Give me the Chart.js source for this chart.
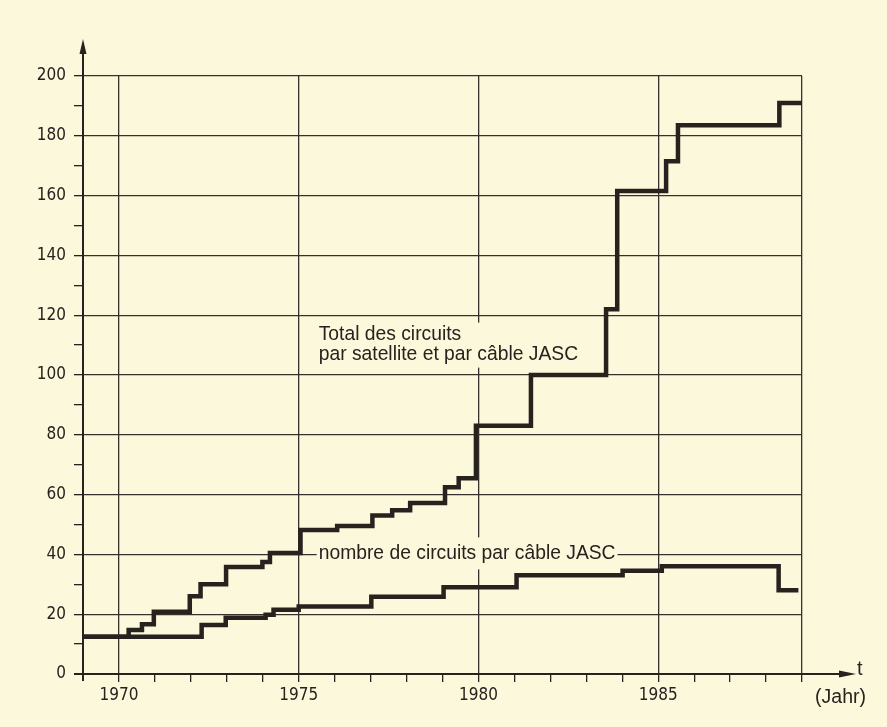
<!DOCTYPE html>
<html><head><meta charset="utf-8">
<script src="https://cdn.jsdelivr.net/npm/chart.js@4/dist/chart.umd.min.js"></script>
<style>html,body{margin:0;padding:0;background:#fcf8dc;overflow:hidden}#wrap{width:887px;height:727px;position:relative}</style>
</head><body><div id="wrap"><canvas id="c" width="887" height="727"></canvas></div>
<script>
// ---- data ----
const totalYears  = [1969, 1970.27, 1970.64, 1970.97, 1971.97, 1972.27, 1972.98, 1973.99, 1974.2, 1975.05, 1976.07, 1977.05, 1977.6, 1978.1, 1979.07, 1979.45, 1979.93, 1981.46, 1983.55, 1983.86, 1985.22, 1985.55, 1988.37, 1989];
const totalValues = [12.5, 14.7, 16.6, 20.8, 26, 30, 35.8, 37.5, 40.5, 48.2, 49.5, 53, 54.8, 57.2, 62.5, 65.5, 83, 100, 122, 161.5, 171.5, 183.5, 191, 191];
const cableYears  = [1969, 1972.3, 1972.97, 1974.08, 1974.3, 1975.0, 1977.02, 1979.03, 1981.06, 1984.01, 1985.1, 1988.35, 1988.9];
const cableValues = [12.5, 16.4, 18.8, 19.8, 21.5, 22.6, 25.8, 29, 33, 34.5, 36, 28, 28];
const yTickValues = [0, 20, 40, 60, 80, 100, 120, 140, 160, 180, 200];
const xLabelYears = [1970, 1975, 1980, 1985];
const xGridYears  = [1970, 1975, 1980, 1985, 1989];
const totalLabel  = ['Total des circuits', 'par satellite et par câble JASC'];
const cableLabel  = 'nombre de circuits par câble JASC';
const xAxisName   = 't';
const xAxisUnit   = '(Jahr)';

// ---- styling ----
const BG = '#fcf8dc';
const INK = '#27221e';
const GRID = '#36312c';
const tickFont = {family: '"DejaVu Sans Condensed", "DejaVu Sans", sans-serif', size: 17};
const totalFont = '19.3px "Liberation Sans", Arial, sans-serif';
const cableFont = '19.3px "Liberation Sans", Arial, sans-serif';

const toPts = (xs, ys) => xs.map((x, i) => ({x: x, y: ys[i]}));
const xMin = totalYears[0], xMax = xGridYears[xGridYears.length - 1];
const allYears = [];
for (let y = xMin; y <= xMax; y++) allYears.push(y);
const yAll = [];
for (let v = 0; v <= 200; v += 10) yAll.push(v);

const decor = {
  id: 'decor',
  beforeDraw(chart) {
    const ctx = chart.ctx;
    ctx.save();
    ctx.fillStyle = BG;
    ctx.fillRect(0, 0, chart.width, chart.height);
    ctx.restore();
  },
  beforeDatasetsDraw(chart) {
    const ctx = chart.ctx, xs = chart.scales.x, ys = chart.scales.y;
    ctx.save();
    ctx.textBaseline = 'middle';
    // Total label
    ctx.font = totalFont;
    const tx = xs.getPixelForValue(1975) + 20;
    const ty = ys.getPixelForValue(110) - 0.5;
    const w1 = Math.max(ctx.measureText(totalLabel[0]).width, ctx.measureText(totalLabel[1]).width);
    ctx.fillStyle = BG;
    ctx.fillRect(tx - 4, ty - 22, w1 + 8, 45);
    ctx.fillStyle = INK;
    ctx.fillText(totalLabel[0], tx, ty - 10);
    ctx.fillText(totalLabel[1], tx, ty + 10);
    // Cable label
    ctx.font = cableFont;
    const cx = xs.getPixelForValue(1975) + 20;
    const cy = ys.getPixelForValue(40) - 1;
    const w2 = ctx.measureText(cableLabel).width;
    ctx.fillStyle = BG;
    ctx.fillRect(cx - 2, cy - 16, w2 + 4, 32);
    ctx.fillStyle = INK;
    ctx.fillText(cableLabel, cx, cy);
    ctx.restore();
  },
  afterDraw(chart) {
    const ctx = chart.ctx, a = chart.chartArea;
    const x0 = a.left, y0 = a.bottom;
    ctx.save();
    ctx.strokeStyle = INK; ctx.fillStyle = INK; ctx.lineWidth = 2;
    // y axis
    ctx.beginPath(); ctx.moveTo(x0, y0 + 7); ctx.lineTo(x0, 50); ctx.stroke();
    ctx.beginPath(); ctx.moveTo(x0, 39); ctx.lineTo(x0 - 3.5, 54); ctx.lineTo(x0 + 3.5, 54); ctx.closePath(); ctx.fill();
    // x axis
    ctx.beginPath(); ctx.moveTo(x0 - 9, y0); ctx.lineTo(842, y0); ctx.stroke();
    ctx.beginPath(); ctx.moveTo(856, y0); ctx.lineTo(839, y0 - 3.5); ctx.lineTo(839, y0 + 3.5); ctx.closePath(); ctx.fill();
    ctx.font = '20px "Liberation Sans", Arial, sans-serif';
    ctx.textBaseline = 'middle'; ctx.textAlign = 'left';
    ctx.fillText(xAxisName, 857, y0 - 5);
    ctx.font = '19.5px "Liberation Sans", Arial, sans-serif';
    ctx.textAlign = 'right';
    ctx.fillText(xAxisUnit, 866, y0 + 24);
    ctx.restore();
  }
};

new Chart(document.getElementById('c'), {
  type: 'line',
  data: {
    datasets: [
      {label: 'total', data: toPts(totalYears, totalValues), stepped: true, borderColor: INK, borderWidth: 4.5, pointRadius: 0, fill: false, borderJoinStyle: 'miter', borderCapStyle: 'butt'},
      {label: 'cable', data: toPts(cableYears, cableValues), stepped: true, borderColor: INK, borderWidth: 4.5, pointRadius: 0, fill: false, borderJoinStyle: 'miter', borderCapStyle: 'butt'}
    ]
  },
  options: {
    responsive: false, animation: false, devicePixelRatio: 1,
    layout: {padding: {top: 76, right: 85, bottom: 0, left: 0}},
    plugins: {legend: {display: false}, tooltip: {enabled: false}},
    scales: {
      x: {
        type: 'linear', min: xMin, max: xMax,
        afterBuildTicks: s => { s.ticks = allYears.map(v => ({value: v})); },
        afterFit: s => { s.height = 53; },
        border: {display: false},
        grid: {
          color: c => xGridYears.includes(Math.round(c.tick.value)) ? GRID : 'rgba(0,0,0,0)',
          tickColor: c => Math.round(c.tick.value) === xMin ? 'rgba(0,0,0,0)' : INK,
          lineWidth: 1.3, tickLength: 8, drawTicks: true
        },
        ticks: {
          autoSkip: false, maxRotation: 0, padding: 3, color: INK, font: tickFont,
          callback: v => xLabelYears.includes(Math.round(v)) ? String(Math.round(v)) : ''
        }
      },
      y: {
        min: 0, max: 200,
        afterBuildTicks: s => { s.ticks = yAll.map(v => ({value: v})); },
        afterFit: s => { s.width = 83; },
        border: {display: false},
        grid: {
          color: c => (c.tick.value % 20 === 0 && c.tick.value > 0) ? GRID : 'rgba(0,0,0,0)',
          tickColor: INK, lineWidth: 1.3, tickLength: 9, drawTicks: true
        },
        ticks: {
          autoSkip: false, padding: 8, color: INK, font: tickFont,
          callback: v => yTickValues.includes(v) ? String(v) : ''
        }
      }
    }
  },
  plugins: [decor]
});
</script></body></html>
